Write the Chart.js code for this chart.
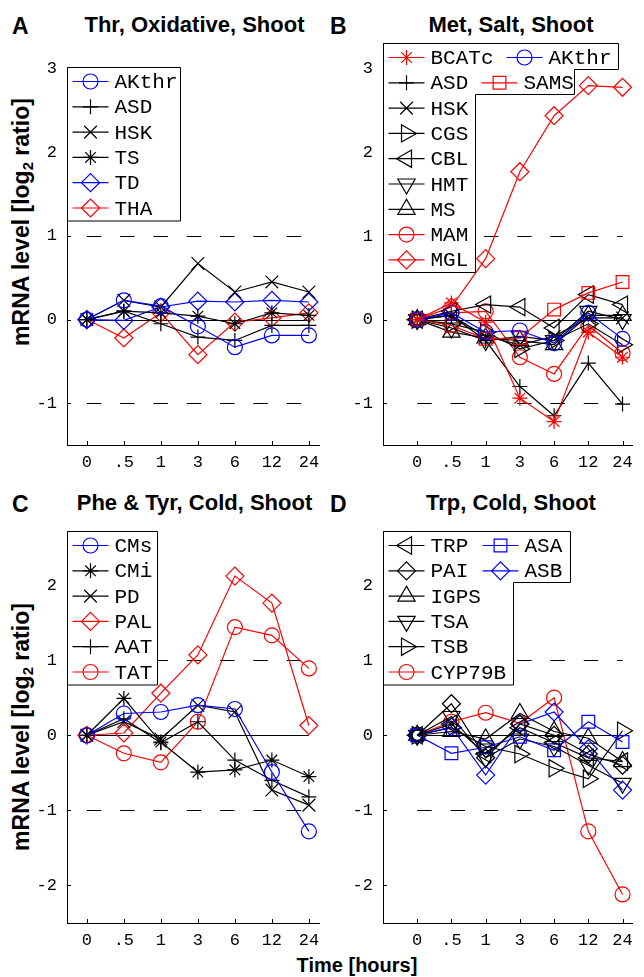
<!DOCTYPE html>
<html>
<head>
<meta charset="utf-8">
<title>mRNA level time courses</title>
<script src="https://cdn.jsdelivr.net/npm/chart.js@4.4.1/dist/chart.umd.min.js"></script>
<style>
  html, body { margin: 0; padding: 0; background: #fff; }
  body { position: relative; width: 644px; height: 977px; overflow: hidden;
         font-family: "Liberation Sans", Arial, Helvetica, sans-serif; }
  canvas { position: absolute; }
  .txt { position: absolute; font-weight: bold; line-height: 1; white-space: nowrap; color: #000; }
  .letter { font-size: 23px; }
  .title { font-size: 22px; text-align: center; }
  .ylab { font-size: 23px; transform: translate(-50%, -50%) rotate(-90deg); }
  .ylab sub { font-size: 15px; vertical-align: -4px; line-height: 0; }
  .xlab { font-size: 20px; transform: translateX(-50%); }
</style>
</head>
<body>
<div class="txt letter" style="left:12px;top:15px">A</div>
<div class="txt title" style="left:67px;top:14px;width:255px">Thr, Oxidative, Shoot</div>
<div class="txt letter" style="left:330px;top:15px">B</div>
<div class="txt title" style="left:383px;top:14px;width:256px">Met, Salt, Shoot</div>
<div class="txt letter" style="left:12px;top:493px">C</div>
<div class="txt title" style="left:67px;top:492px;width:255px">Phe &amp; Tyr, Cold, Shoot</div>
<div class="txt letter" style="left:330px;top:493px">D</div>
<div class="txt title" style="left:383px;top:492px;width:256px">Trp, Cold, Shoot</div>
<div class="txt ylab" style="left:21px;top:222px">mRNA level [log<sub>2</sub> ratio]</div>
<div class="txt ylab" style="left:21px;top:727px">mRNA level [log<sub>2</sub> ratio]</div>
<div class="txt xlab" style="left:357px;top:955px">Time [hours]</div>

<canvas id="chartA" width="330" height="440" style="left:0;top:40px"></canvas>
<canvas id="chartB" width="314" height="460" style="left:330px;top:20px"></canvas>
<canvas id="chartC" width="330" height="467" style="left:0;top:510px"></canvas>
<canvas id="chartD" width="314" height="467" style="left:330px;top:510px"></canvas>

<script>
const timeLabels = ['0', '.5', '1', '3', '6', '12', '24'];
const yTicksTop = [-1, 0, 1, 2, 3];
const yTicksBottom = [-2, -1, 0, 1, 2];
const refLevels = [-1, 0, 1];

// A: Thr, oxidative stress, shoot
const thrAKthr = [0, 0.23, 0.16, -0.08, -0.33, -0.19, -0.19];
const thrASD   = [0, 0.10, -0.05, -0.21, -0.25, -0.07, -0.07];
const thrHSK   = [0, 0.23, 0.15, 0.67, 0.33, 0.45, 0.33];
const thrTS    = [0, 0.10, 0.08, 0.04, -0.05, 0.08, 0.05];
const thrTD    = [0, -0.01, 0.15, 0.22, 0.21, 0.23, 0.21];
const thrTHA   = [0, -0.22, 0.08, -0.42, -0.03, 0.02, 0.08];

// B: Met, salt stress, shoot
const metBCATc = [0, 0.20, -0.03, -0.94, -1.22, -0.15, -0.45];
const metAKthr = [0, 0.08, -0.15, -0.13, -0.28, 0.08, -0.23];
const metASD   = [0, 0.05, -0.25, -0.80, -1.15, -0.52, -1.01];
const metSAMS  = [0, -0.07, -0.23, -0.22, 0.12, 0.32, 0.45];
const metHSK   = [0, 0.05, -0.20, -0.30, -0.20, 0.02, 0.02];
const metCGS   = [0, -0.05, -0.15, -0.35, -0.25, -0.05, -0.30];
const metCBL   = [0, 0.10, 0.18, 0.15, -0.10, 0.30, 0.18];
const metHMT   = [0, -0.10, -0.25, -0.20, -0.25, 0.10, 0.00];
const metMS    = [0, -0.15, -0.22, -0.25, -0.30, 0.05, 0.05];
const metMAM   = [0, 0.08, 0.10, -0.45, -0.65, -0.07, -0.40];
const metMGL   = [0, 0.15, 0.73, 1.77, 2.44, 2.80, 2.78];

// C: Phe & Tyr, cold stress, shoot
const pheCMs = [0, 0.29, 0.31, 0.40, 0.35, -0.49, -1.28];
const pheCMi = [0, 0.49, -0.09, -0.49, -0.46, -0.33, -0.55];
const phePD  = [0, 0.18, -0.05, 0.40, 0.31, -0.73, -0.93];
const phePAL = [0, 0.03, 0.56, 1.07, 2.12, 1.76, 0.13];
const pheAAT = [0, 0.22, -0.10, 0.18, -0.33, -0.60, -0.82];
const pheTAT = [0, -0.24, -0.36, 0.18, 1.44, 1.33, 0.89];

// D: Trp, cold stress, shoot
const trpTRP    = [0, 0.15, -0.25, 0.10, -0.10, -0.30, -0.35];
const trpASA    = [0, -0.24, -0.16, -0.02, -0.20, 0.18, -0.09];
const trpPAI    = [0, 0.42, -0.30, 0.15, 0.00, -0.25, -0.40];
const trpASB    = [0, 0.11, -0.53, 0.15, 0.31, -0.18, -0.73];
const trpIGPS   = [0, 0.05, -0.05, 0.29, 0.05, -0.04, -0.35];
const trpTSA    = [0, 0.25, -0.30, -0.05, -0.15, -0.40, -0.64];
const trpTSB    = [0, 0.10, -0.15, -0.25, -0.44, -0.58, 0.06];
const trpCYP79B = [0, 0.18, 0.30, 0.16, 0.50, -1.28, -2.12];

const BLACK = '#000000', RED = '#ff0000', BLUE = '#0000ff';
const tickFont = { family: '"Liberation Mono", "Courier New", monospace', size: 17 };
const legendFont = '21px "Liberation Mono", "Courier New", monospace';

const markers = {
  circle:   { style: 'circle',   r: 7.5, rot: 0 },
  plus:     { style: 'cross',    r: 7.5, rot: 0 },
  x:        { style: 'crossRot', r: 9,   rot: 0 },
  star:     { style: 'star',     r: 7.5, rot: 0 },
  diamond:  { style: 'rectRot',  r: 9,   rot: 0 },
  square:   { style: 'rect',     r: 9,   rot: 0 },
  triUp:    { style: 'triangle', r: 10,  rot: 0 },
  triDown:  { style: 'triangle', r: 10,  rot: 180 },
  triRight: { style: 'triangle', r: 10,  rot: 90 },
  triLeft:  { style: 'triangle', r: 10,  rot: 270 }
};

function series(label, values, color, marker) {
  const m = markers[marker];
  return {
    label,
    data: values.map((v, i) => ({ x: i, y: v })),
    borderColor: color,
    backgroundColor: color,
    borderWidth: 1.2,
    tension: 0,
    pointStyle: m.style,
    pointRadius: m.r,
    pointHoverRadius: m.r,
    pointRotation: m.rot,
    pointBorderColor: color,
    pointBackgroundColor: 'rgba(0,0,0,0)',
    pointBorderWidth: 1.2,
    clip: false
  };
}

// dashed +-1 lines and solid zero line, from 0 h to 24 h
const refLines = {
  id: 'refLines',
  beforeDatasetsDraw(chart) {
    const { ctx, scales: { x, y } } = chart;
    const x0 = x.getPixelForValue(0);
    const x1 = x.getPixelForValue(timeLabels.length - 1);
    ctx.save();
    ctx.strokeStyle = BLACK;
    ctx.lineWidth = 1;
    refLevels.forEach(level => {
      const py = Math.round(y.getPixelForValue(level)) + 0.5;
      ctx.setLineDash(level === 0 ? [] : [14.5, 18.8]);
      ctx.beginPath();
      ctx.moveTo(x0, py);
      ctx.lineTo(x1, py);
      ctx.stroke();
    });
    ctx.restore();
  }
};

// matlab style ticks pointing into the axes
const inTicks = {
  id: 'inTicks',
  afterDraw(chart) {
    const { ctx, chartArea: a, scales: { x, y } } = chart;
    ctx.save();
    ctx.strokeStyle = BLACK;
    ctx.lineWidth = 1;
    ctx.beginPath();
    x.ticks.forEach(t => {
      const px = Math.round(x.getPixelForValue(t.value)) + 0.5;
      ctx.moveTo(px, a.bottom);
      ctx.lineTo(px, a.bottom - 4);
    });
    y.ticks.forEach(t => {
      const py = Math.round(y.getPixelForValue(t.value)) + 0.5;
      ctx.moveTo(a.left, py);
      ctx.lineTo(a.left + 4, py);
    });
    ctx.stroke();
    ctx.restore();
  }
};

// boxed legend in the upper left corner of the axes
const boxLegend = {
  id: 'boxLegend',
  afterDraw(chart, args, opts) {
    if (!opts || !opts.entries) return;
    const { ctx, chartArea: a } = chart;
    const left = Math.round(a.left) + 0.5, top = Math.round(a.top) + 0.5;
    ctx.save();
    ctx.beginPath();
    opts.outline.forEach(([dx, dy], i) => {
      if (i) ctx.lineTo(left + dx, top + dy);
      else ctx.moveTo(left + dx, top + dy);
    });
    ctx.closePath();
    ctx.fillStyle = '#fff';
    ctx.fill();
    ctx.strokeStyle = BLACK;
    ctx.lineWidth = 1;
    ctx.stroke();

    ctx.font = legendFont;
    ctx.textBaseline = 'middle';
    opts.entries.forEach(e => {
      const ds = chart.data.datasets[e.ds];
      const cy = top + 14 + e.row * 25.3;
      const cx = left + e.x;
      ctx.strokeStyle = ds.borderColor;
      ctx.lineWidth = ds.borderWidth;
      ctx.beginPath();
      ctx.moveTo(cx + 5, cy);
      ctx.lineTo(cx + 41, cy);
      ctx.stroke();
      ctx.fillStyle = 'rgba(0,0,0,0)';
      if (Chart.helpers && Chart.helpers.drawPoint) {
        Chart.helpers.drawPoint(ctx, {
          pointStyle: ds.pointStyle, rotation: ds.pointRotation,
          radius: ds.pointRadius, borderWidth: ds.pointBorderWidth
        }, cx + 23, cy);
      }
      ctx.fillStyle = BLACK;
      ctx.fillText(ds.label, cx + 47, cy + 1);
    });
    ctx.restore();
  }
};

function buildChart(id, p) {
  const box = p.canvas, area = p.area;
  return new Chart(document.getElementById(id), {
    type: 'line',
    data: { datasets: p.datasets },
    plugins: [refLines, inTicks, boxLegend],
    options: {
      responsive: false,
      animation: false,
      events: [],
      layout: { padding: { left: 0, top: area.t - box.top, right: box.left + box.w - area.r, bottom: 0 } },
      plugins: {
        legend: { display: false },
        tooltip: { enabled: false },
        boxLegend: p.legend
      },
      scales: {
        x: {
          type: 'linear',
          min: p.xMin,
          max: p.xMax,
          afterFit: s => { s.height = box.top + box.h - area.b; },
          afterBuildTicks: s => { s.ticks = timeLabels.map((_, i) => ({ value: i })); },
          ticks: { callback: v => timeLabels[v], font: tickFont, color: BLACK, padding: 7, maxRotation: 0, autoSkip: false },
          grid: { display: false, drawTicks: false },
          border: { display: true, color: BLACK, width: 1 }
        },
        y: {
          type: 'linear',
          min: p.yMin,
          max: p.yMax,
          afterFit: s => { s.width = area.l - box.left; },
          afterBuildTicks: s => { s.ticks = p.yTicks.map(v => ({ value: v })); },
          ticks: { callback: v => String(v), font: tickFont, color: BLACK, padding: 10 },
          grid: { display: false, drawTicks: false },
          border: { display: true, color: BLACK, width: 1 }
        }
      }
    }
  });
}

const rect6 = w => [[0, 0], [w, 0], [w, 153.5], [0, 153.5]];

buildChart('chartA', {
  canvas: { left: 0, top: 40, w: 330, h: 440 },
  area: { l: 67, t: 67, r: 322, b: 445 },
  xMin: -0.536, xMax: 6.295, yMin: -1.5, yMax: 3.02, yTicks: yTicksTop,
  datasets: [
    series('AKthr', thrAKthr, BLUE, 'circle'),
    series('ASD', thrASD, BLACK, 'plus'),
    series('HSK', thrHSK, BLACK, 'x'),
    series('TS', thrTS, BLACK, 'star'),
    series('TD', thrTD, BLUE, 'diamond'),
    series('THA', thrTHA, RED, 'diamond')
  ],
  legend: {
    outline: rect6(113),
    entries: [0, 1, 2, 3, 4, 5].map(i => ({ ds: i, row: i, x: 0 }))
  }
});

buildChart('chartB', {
  canvas: { left: 330, top: 20, w: 314, h: 460 },
  area: { l: 383, t: 43, r: 638.5, b: 445 },
  xMin: -1, xMax: 6.3, yMin: -1.5, yMax: 3.31, yTicks: yTicksTop,
  datasets: [
    series('BCATc', metBCATc, RED, 'star'),
    series('AKthr', metAKthr, BLUE, 'circle'),
    series('ASD', metASD, BLACK, 'plus'),
    series('SAMS', metSAMS, RED, 'square'),
    series('HSK', metHSK, BLACK, 'x'),
    series('CGS', metCGS, BLACK, 'triRight'),
    series('CBL', metCBL, BLACK, 'triLeft'),
    series('HMT', metHMT, BLACK, 'triDown'),
    series('MS', metMS, BLACK, 'triUp'),
    series('MAM', metMAM, RED, 'circle'),
    series('MGL', metMGL, RED, 'diamond')
  ],
  legend: {
    outline: [[0, 0], [235, 0], [235, 26], [191, 26], [191, 51], [92, 51], [92, 229], [0, 229]],
    entries: [
      { ds: 0, row: 0, x: 0 }, { ds: 1, row: 0, x: 118 },
      { ds: 2, row: 1, x: 0 }, { ds: 3, row: 1, x: 93 },
      { ds: 4, row: 2, x: 0 }, { ds: 5, row: 3, x: 0 }, { ds: 6, row: 4, x: 0 },
      { ds: 7, row: 5, x: 0 }, { ds: 8, row: 6, x: 0 }, { ds: 9, row: 7, x: 0 },
      { ds: 10, row: 8, x: 0 }
    ]
  }
});

buildChart('chartC', {
  canvas: { left: 0, top: 510, w: 330, h: 467 },
  area: { l: 67, t: 531, r: 322, b: 923 },
  xMin: -0.536, xMax: 6.295, yMin: -2.5, yMax: 2.72, yTicks: yTicksBottom,
  datasets: [
    series('CMs', pheCMs, BLUE, 'circle'),
    series('CMi', pheCMi, BLACK, 'star'),
    series('PD', phePD, BLACK, 'x'),
    series('PAL', phePAL, RED, 'diamond'),
    series('AAT', pheAAT, BLACK, 'plus'),
    series('TAT', pheTAT, RED, 'circle')
  ],
  legend: {
    outline: rect6(90),
    entries: [0, 1, 2, 3, 4, 5].map(i => ({ ds: i, row: i, x: 0 }))
  }
});

buildChart('chartD', {
  canvas: { left: 330, top: 510, w: 314, h: 467 },
  area: { l: 383, t: 531, r: 638.5, b: 923 },
  xMin: -1, xMax: 6.3, yMin: -2.5, yMax: 2.72, yTicks: yTicksBottom,
  datasets: [
    series('TRP', trpTRP, BLACK, 'triLeft'),
    series('ASA', trpASA, BLUE, 'square'),
    series('PAI', trpPAI, BLACK, 'diamond'),
    series('ASB', trpASB, BLUE, 'diamond'),
    series('IGPS', trpIGPS, BLACK, 'triUp'),
    series('TSA', trpTSA, BLACK, 'triDown'),
    series('TSB', trpTSB, BLACK, 'triRight'),
    series('CYP79B', trpCYP79B, RED, 'circle')
  ],
  legend: {
    outline: [[0, 0], [187, 0], [187, 51], [130, 51], [130, 153.5], [0, 153.5]],
    entries: [
      { ds: 0, row: 0, x: 0 }, { ds: 1, row: 0, x: 94 },
      { ds: 2, row: 1, x: 0 }, { ds: 3, row: 1, x: 94 },
      { ds: 4, row: 2, x: 0 }, { ds: 5, row: 3, x: 0 },
      { ds: 6, row: 4, x: 0 }, { ds: 7, row: 5, x: 0 }
    ]
  }
});
</script>
</body>
</html>
